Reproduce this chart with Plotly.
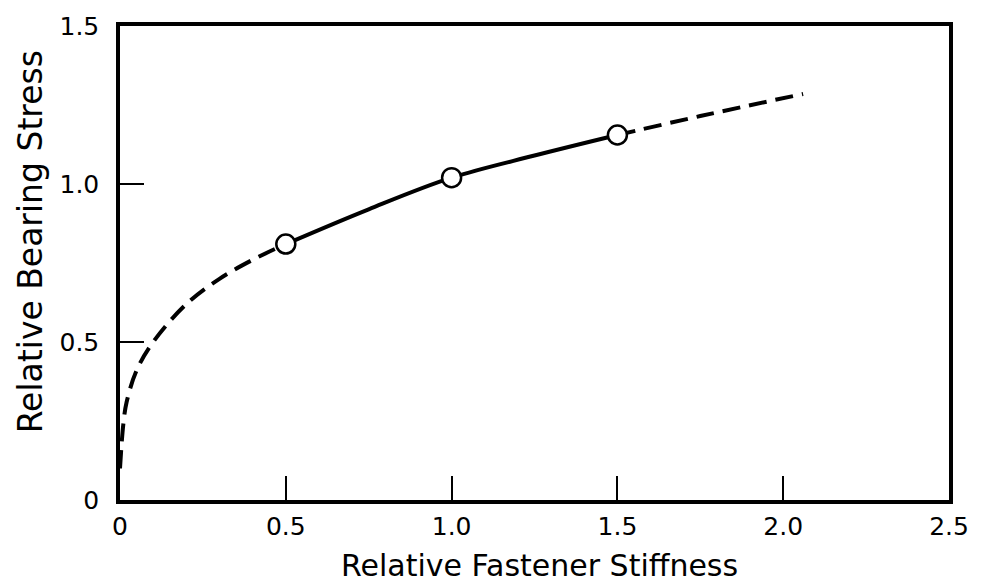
import plotly.graph_objects as go

# Curve (relative fastener stiffness vs relative bearing stress)
low_x = [0.0, 0.01, 0.02, 0.05, 0.1, 0.2, 0.3, 0.4, 0.5]
low_y = [0.1, 0.24, 0.31, 0.41, 0.5, 0.62, 0.70, 0.76, 0.81]
mid_x = [0.5, 0.75, 1.0, 1.25, 1.5]
mid_y = [0.81, 0.92, 1.02, 1.09, 1.155]
high_x = [1.5, 1.75, 2.06]
high_y = [1.155, 1.215, 1.285]
pts_x = [0.5, 1.0, 1.5]
pts_y = [0.81, 1.02, 1.155]

x_ticks = [0, 0.5, 1.0, 1.5, 2.0, 2.5]
x_labels = ["0", "0.5", "1.0", "1.5", "2.0", "2.5"]
y_ticks = [0, 0.5, 1.0, 1.5]
y_labels = ["0", "0.5", "1.0", "1.5"]

FONT = "DejaVu Sans"
W, H = 981, 586
L, R, T, B = 120, 31, 20, 86

fig = go.Figure()
fig.add_trace(go.Scatter(x=low_x, y=low_y, mode="lines", line=dict(color="black", width=4, dash="18px,9px", shape="spline"), hoverinfo="skip"))
fig.add_trace(go.Scatter(x=mid_x, y=mid_y, mode="lines", line=dict(color="black", width=4, shape="spline"), hoverinfo="skip"))
fig.add_trace(go.Scatter(x=high_x, y=high_y, mode="lines", line=dict(color="black", width=4, dash="18px,9px", shape="spline"), hoverinfo="skip"))
fig.add_trace(go.Scatter(x=pts_x, y=pts_y, mode="markers", marker=dict(size=19, color="white", line=dict(color="black", width=2.5))))

pw = W - L - R
ph = H - T - B
fig.update_layout(
    width=W, height=H,
    margin=dict(l=L, r=R, t=T, b=B),
    paper_bgcolor="white", plot_bgcolor="white",
    showlegend=False,
    font=dict(family=FONT, color="black", size=25),
    annotations=[
        dict(text="Relative Fastener Stiffness", xref="paper", yref="paper",
             x=(540 - L) / pw, y=-(566 - (T + ph)) / ph, showarrow=False,
             xanchor="center", yanchor="middle", font=dict(size=30, family=FONT)),
        dict(text="Relative Bearing Stress", xref="paper", yref="paper",
             x=(30 - L) / pw, y=(T + ph - 239) / ph, showarrow=False, textangle=-90,
             xanchor="center", yanchor="middle", font=dict(size=33, family=FONT)),
    ],
)
fig.update_xaxes(
    range=[0, 2.5], tickvals=x_ticks, ticktext=x_labels,
    showgrid=False, zeroline=False,
    showline=True, linecolor="black", linewidth=3.5, mirror=True,
    ticks="inside", ticklen=24, tickwidth=2, tickcolor="black",
    ticklabelstandoff=1,
    tickfont=dict(size=25, family=FONT),
)
fig.update_yaxes(
    range=[0, 1.5], tickvals=y_ticks, ticktext=y_labels,
    showgrid=False, zeroline=False,
    showline=True, linecolor="black", linewidth=3.5, mirror=True,
    ticks="inside", ticklen=24, tickwidth=2, tickcolor="black",
    ticklabelstandoff=12,
    tickfont=dict(size=25, family=FONT),
)
fig.write_html("out.html")
